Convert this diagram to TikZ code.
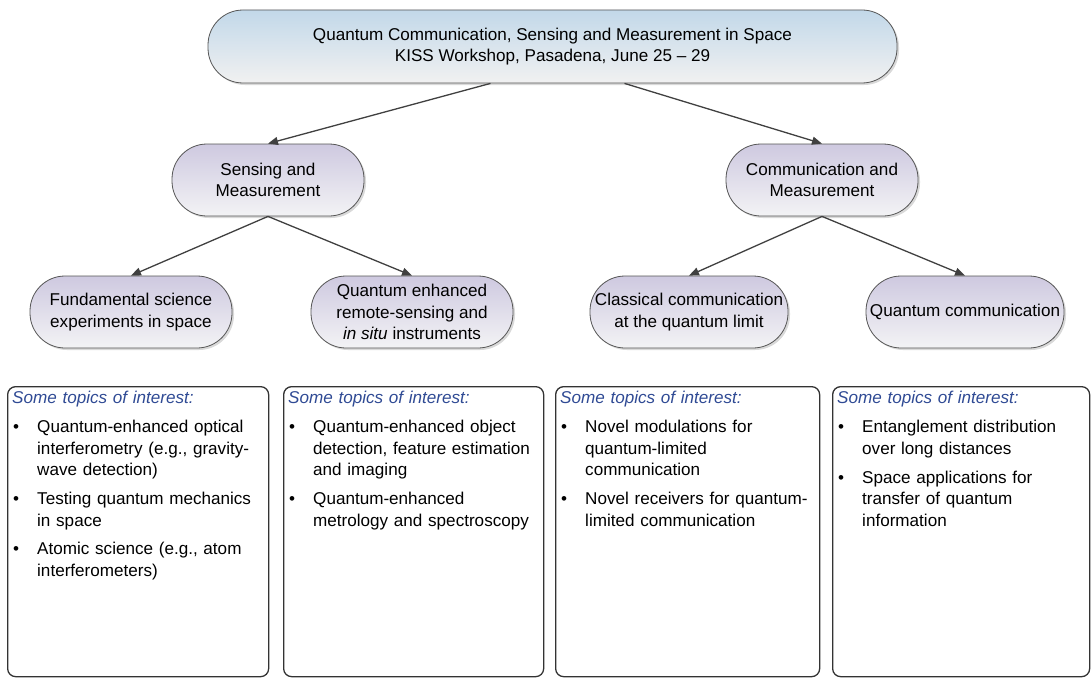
\documentclass[tikz,border=0pt]{standalone}
\usepackage{fontspec}
\setmainfont{Liberation Sans}
\usetikzlibrary{arrows.meta,shadows,calc}
\definecolor{lav}{RGB}{206,201,224}
\definecolor{lavlow}{RGB}{243,243,245}
\definecolor{skytop}{RGB}{194,216,233}
\definecolor{skylow}{RGB}{241,241,241}
\definecolor{edgegray}{RGB}{85,85,85}
\definecolor{arrgray}{RGB}{64,64,64}
\definecolor{hdrblue}{RGB}{47,74,148}
\newcommand{\bulletlabel}[1]{\hspace{1pt}#1\hfil}
\newenvironment{topics}{\begin{list}{\textbullet}{%
  \setlength{\leftmargin}{25pt}\setlength{\labelwidth}{22pt}%
  \setlength{\labelsep}{3pt}\setlength{\itemsep}{7.5pt}%
  \setlength{\parsep}{0pt}\setlength{\topsep}{8pt}%
  \setlength{\partopsep}{0pt}\setlength{\itemindent}{0pt}%
  \setlength{\listparindent}{0pt}%
  \let\makelabel\bulletlabel}}{\end{list}}
\newcommand{\hdr}{{\color{hdrblue}\itshape Some topics of interest:}\par}
\begin{document}
\begin{tikzpicture}[x=1pt,y=-1pt,
  pill/.style={draw=edgegray, line width=0.8pt, rounded corners=35pt,
    minimum height=72pt, top color=lav, bottom color=lavlow, align=center,
    font=\fontsize{17.1}{21.3}\selectfont, inner sep=0pt,
    drop shadow={shadow xshift=2pt, shadow yshift=-2pt, fill=gray, opacity=0.3}},
  toppill/.style={pill, top color=skytop, bottom color=skylow, minimum height=73pt},
  topicbox/.style={draw=black!80, line width=1.3pt, rounded corners=8pt,
    minimum width=#1, minimum height=290pt, anchor=north west, inner sep=0pt},
  topictext/.style={anchor=north west, text width=252pt, inner sep=0pt,
    font=\fontsize{17.1}{21.4}\selectfont},
  conn/.style={draw=arrgray, line width=1.3pt, -{Triangle[length=10pt,width=8pt]}}
]
\useasboundingbox (0,0) rectangle (1091,677);

\node[toppill, minimum width=689pt] (top) at (552.5,46.5)
  {Quantum Communication, Sensing and Measurement in Space\\KISS Workshop, Pasadena, June 25 -- 29};

\node[pill, minimum width=192pt] (sens) at (268,180) {Sensing and\\Measurement};
\node[pill, minimum width=192pt] (comm) at (822,180) {Communication and\\Measurement};

\node[pill, minimum width=202pt] (fund) at (131,312) {Fundamental science\\experiments in space};
\node[pill, minimum width=202pt] (qe) at (412,312) {Quantum enhanced\\remote-sensing and\\\textit{in situ} instruments};
\node[pill, minimum width=198pt] (clas) at (689,312) {Classical communication\\at the quantum limit};
\node[pill, minimum width=198pt] (qc) at (965,312) {Quantum communication};

\draw[conn] ([xshift=-62pt]top.south) -- (sens.north);
\draw[conn] ([xshift=72pt]top.south) -- (comm.north);
\draw[conn] (sens.south) -- (fund.north);
\draw[conn] (sens.south) -- (qe.north);
\draw[conn] (comm.south) -- (clas.north);
\draw[conn] (comm.south) -- (qc.north);

\node[topicbox=261pt] (b1) at (7,386) {};
\node[topicbox=260pt] (b2) at (283,386) {};
\node[topicbox=264pt] (b3) at (555,386) {};
\node[topicbox=257pt] (b4) at (832,386) {};

\node[topictext] (t1) at ([xshift=5pt,yshift=-5pt]b1.north west) {\hdr
\begin{topics}
\item Quantum-enhanced optical\\interferometry (e.g., gravity-\\wave detection)
\item Testing quantum mechanics\\in space
\item Atomic science (e.g., atom\\interferometers)
\end{topics}};
\node[topictext] (t2) at ([xshift=5pt,yshift=-5pt]b2.north west) {\hdr
\begin{topics}
\item Quantum-enhanced object\\detection, feature estimation\\and imaging
\item Quantum-enhanced\\metrology and spectroscopy
\end{topics}};
\node[topictext] (t3) at ([xshift=5pt,yshift=-5pt]b3.north west) {\hdr
\begin{topics}
\item Novel modulations for\\quantum-limited\\communication
\item Novel receivers for quantum-\\limited communication
\end{topics}};
\node[topictext] (t4) at ([xshift=5pt,yshift=-5pt]b4.north west) {\hdr
\begin{topics}
\item Entanglement distribution\\over long distances
\item Space applications for\\transfer of quantum\\information
\end{topics}};
\end{tikzpicture}
\end{document}
